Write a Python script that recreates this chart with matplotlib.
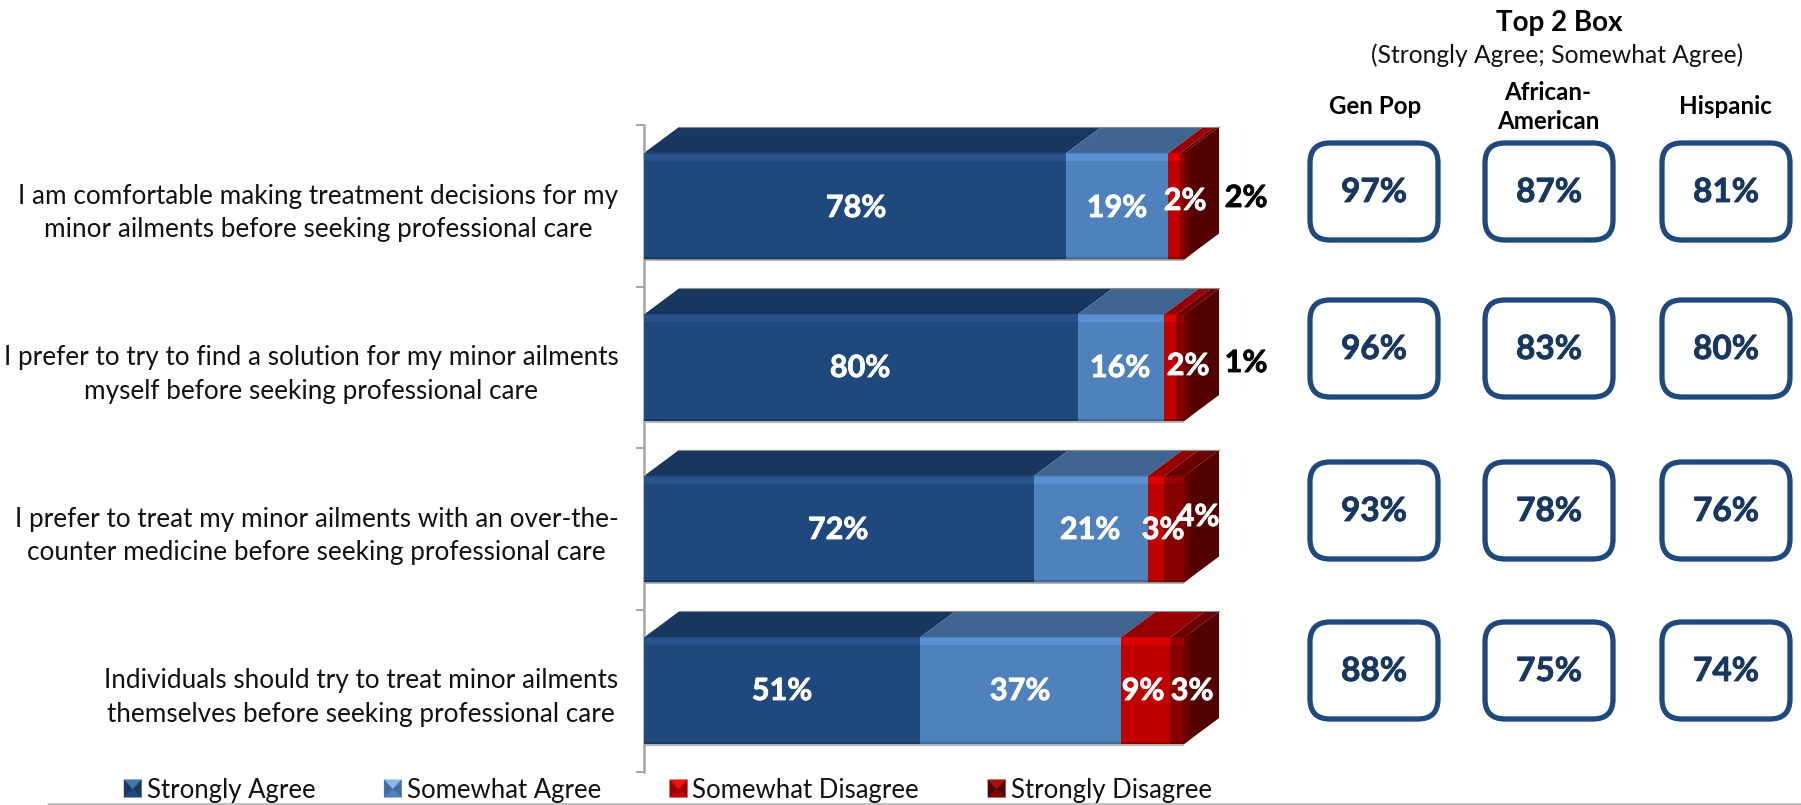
import matplotlib
matplotlib.use("Agg")
import matplotlib.pyplot as plt
import matplotlib.patheffects as pe
from matplotlib.patches import Polygon, FancyBboxPatch, Patch
from matplotlib.legend_handler import HandlerBase

plt.rcParams['font.family'] = ['Lato', 'DejaVu Sans']

# ---------- data ----------
statements = [
    "I am comfortable making treatment decisions for my\nminor ailments before seeking professional care",
    "I prefer to try to find a solution for my minor ailments\nmyself before seeking professional care",
    "I prefer to treat my minor ailments with an over-the-\ncounter medicine before seeking professional care",
    "Individuals should try to treat minor ailments\nthemselves before seeking professional care",
]
series_names = ["Strongly Agree", "Somewhat Agree", "Somewhat Disagree", "Strongly Disagree"]
# segment extents
strongly_agree = [78.2, 80.3, 72.2, 51.1]
somewhat_agree = [18.9, 16.0, 21.1, 37.2]
somewhat_disagree = [2.2, 2.2, 3.0, 9.1]
strongly_disagree = [0.7, 1.5, 3.7, 2.6]
# printed labels
label_sa = ["78%", "80%", "72%", "51%"]
label_wa = ["19%", "16%", "21%", "37%"]
label_wd = ["2%", "2%", "3%", "9%"]
label_sd = ["2%", "1%", "4%", "3%"]
group_names = ["Gen Pop", "African-\nAmerican", "Hispanic"]
top2_gen = ["97%", "96%", "93%", "88%"]
top2_aa = ["87%", "83%", "78%", "75%"]
top2_his = ["81%", "80%", "76%", "74%"]

# ---------- style ----------
W, H = 1801, 805
front = ["#1F497D", "#4F81BD", "#C00000", "#860000"]
shine = ["#27538A", "#5B90D2", "#DE0000", "#9A0000"]
shade = ["#173A63", "#41699A", "#8E0000", "#640000"]
topc = ["#17375E", "#3F6590", "#960000", "#6A0000"]
mark_top = ["#4474AE", "#8CB4E4", "#F01010", "#A81010"]
mark_side = ["#173A63", "#3D6CA6", "#A00000", "#560000"]
side_c = "#530000"
side_in = "#6C0000"
NAVY = "#17375E"
BOX = "#1F497D"
GRAY = "#A6A6A6"

fig = plt.figure(figsize=(W / 100, H / 100), dpi=100)
AX_L, AX_R, AX_T, AX_B = 644, 1184, 125.5, 771.5
ax = fig.add_axes([AX_L / W, 1 - AX_B / H, (AX_R - AX_L) / W, (AX_B - AX_T) / H])
ax.set_xlim(0, 100)
ax.set_ylim(3.5, -0.5)
ax.patch.set_visible(False)

px_x = 100 / (AX_R - AX_L)
px_y = 4 / (AX_B - AX_T)
dx, dy = 35 * px_x, 26 * px_y
h = 0.66
strip = 7 * px_y
edge = 2.5 * px_y

series = [strongly_agree, somewhat_agree, somewhat_disagree, strongly_disagree]
rows = range(len(statements))
left = [0.0] * len(statements)
for s, vals in enumerate(series):
    ax.barh(list(rows), vals, left=left, height=h, color=front[s], linewidth=0, zorder=3,
            label=series_names[s])
    ax.barh([r - h / 2 + strip / 2 + 0.004 for r in rows], vals, left=left, height=strip,
            color=shine[s], linewidth=0, zorder=4)
    ax.barh([r + h / 2 - edge / 2 for r in rows], vals, left=left, height=edge,
            color=shade[s], linewidth=0, zorder=4)
    for r in rows:
        yt = r - h / 2
        ax.add_patch(Polygon([(left[r], yt), (left[r] + vals[r], yt),
                              (left[r] + vals[r] + dx, yt - dy), (left[r] + dx, yt - dy)],
                             closed=True, fc=topc[s], ec="none", zorder=2, clip_on=False))
    left = [a + b for a, b in zip(left, vals)]

for r in rows:
    yt, yb = r - h / 2, r + h / 2
    end = left[r]
    ax.add_patch(Polygon([(end, yt), (end + dx, yt - dy), (end + dx, yb - dy), (end, yb)],
                         closed=True, fc=side_c, ec="none", zorder=2, clip_on=False))
    ax.add_patch(Polygon([(end, yt), (end + 0.18 * dx, yt - 0.18 * dy), (end + 0.18 * dx, yb - 0.18 * dy), (end, yb)],
                         closed=True, fc=side_in, ec="none", zorder=2.5, clip_on=False))
    ax.plot([0, end], [yb + 0.004, yb + 0.004], color=GRAY, lw=1.2, zorder=5, clip_on=False,
            solid_capstyle="butt")
    ax.plot([dx, end + dx], [yt - dy, yt - dy], color="#8C8C8C", lw=0.8, zorder=2, clip_on=False)

for sp in ("top", "right", "bottom"):
    ax.spines[sp].set_visible(False)
ax.spines["left"].set_color(GRAY)
ax.spines["left"].set_linewidth(1.8)
ax.set_xticks([])
ax.set_yticks([-0.5, 0.5, 1.5, 2.5, 3.5])
ax.set_yticklabels([])
ax.tick_params(axis="y", which="major", length=6, width=1.4, color=GRAY)
ax.set_yticks(list(rows), minor=True)
ax.set_yticklabels(statements, minor=True, fontsize=18.8, color="#111111",
                   ha="right", multialignment="center", linespacing=1.42)
ax.tick_params(axis="y", which="minor", length=0, pad=18.5)


# ---------- overlay in pixel coordinates ----------
ov = fig.add_axes([0, 0, 1, 1], zorder=5)
ov.set_xlim(0, W)
ov.set_ylim(H, 0)
ov.axis("off")
ov.patch.set_visible(False)

seg_labels = [label_sa, label_wa, label_wd, label_sd]
label_x = [[856, 860, 838, 782], [1117, 1120, 1090, 1020], [1185, 1188, 1163, 1143], [1246, 1246, 1198, 1192]]
label_y = [[208, 368, 530, 691], [208, 368, 530, 691], [201, 366, 530, 691], [198, 363, 517, 691]]
for s in range(4):
    for r in rows:
        col = "black" if (s == 3 and r < 2) else "white"
        ov.text(label_x[s][r], label_y[s][r], seg_labels[s][r], color=col, fontsize=22,
                fontweight="bold", ha="center", va="center",
                path_effects=[pe.withStroke(linewidth=0.6, foreground=col)])

box_left = [1310, 1485, 1662]
box_w, box_h = 128, 97
box_top = [143, 300, 462, 622]
groups = [top2_gen, top2_aa, top2_his]
for g, vals in enumerate(groups):
    for r in rows:
        ov.add_patch(FancyBboxPatch((box_left[g] + 18, box_top[r] + 18), box_w - 36, box_h - 36,
                                    boxstyle="round,pad=18,rounding_size=20", fc="white", ec=BOX, lw=3.8))
        ov.text(box_left[g] + box_w / 2, box_top[r] + box_h / 2 + 1, vals[r], color=NAVY, fontsize=24,
                fontweight="bold", ha="center", va="center",
                path_effects=[pe.withStroke(linewidth=0.6, foreground=NAVY)])

ov.text(1559, 23, "Top 2 Box", fontsize=20, fontweight="bold", ha="center", va="center", color="black")
ov.text(1557, 55, "(Strongly Agree; Somewhat Agree)", fontsize=17.7, ha="center", va="center", color="#111111")
group_x = [1375, 1548, 1725]
group_y = [107, 107, 107]
for g, name in enumerate(group_names):
    ov.text(group_x[g], group_y[g], name, fontsize=17.4, fontweight="bold", ha="center", va="center",
            linespacing=1.32, color="black")
ov.plot([47, W], [803.5, 803.5], color="#BFBFBF", lw=2, solid_capstyle="butt")


# ---------- legend ----------
class Pyramid(HandlerBase):
    def __init__(self, light, mid, dark):
        super().__init__()
        self.light, self.mid, self.dark = light, mid, dark

    def create_artists(self, legend, orig, xd, yd, width, height, fontsize, trans):
        s = min(width, height)
        x0, y0 = -xd + (width - s) / 2, -yd + (height - s) / 2
        c = (x0 + s / 2, y0 + s * 0.45)
        a, b, e, d = (x0, y0), (x0 + s, y0), (x0 + s, y0 + s), (x0, y0 + s)
        tris = [([d, e, c], self.light), ([a, b, c], self.dark), ([a, d, c], self.mid), ([b, e, c], self.mid)]
        return [Polygon(p, closed=True, fc=col, ec=col, lw=0.3, transform=trans) for p, col in tris]


handles = [Patch(color=front[i], label=series_names[i]) for i in range(4)]
hmap = {handles[i]: Pyramid(mark_top[i], mark_side[i], front[i]) for i in range(4)}
ov.legend(handles=handles, handler_map=hmap, ncol=4, frameon=False, fontsize=18.5,
          loc="center left", bbox_to_anchor=(124 / W, 1 - 790 / H), bbox_transform=fig.transFigure,
          borderpad=0, borderaxespad=0, handlelength=0.68, handleheight=0.68, handletextpad=0.2,
          columnspacing=2.68, labelcolor="#111111")

fig.savefig("out.png", dpi=100, facecolor="white")
